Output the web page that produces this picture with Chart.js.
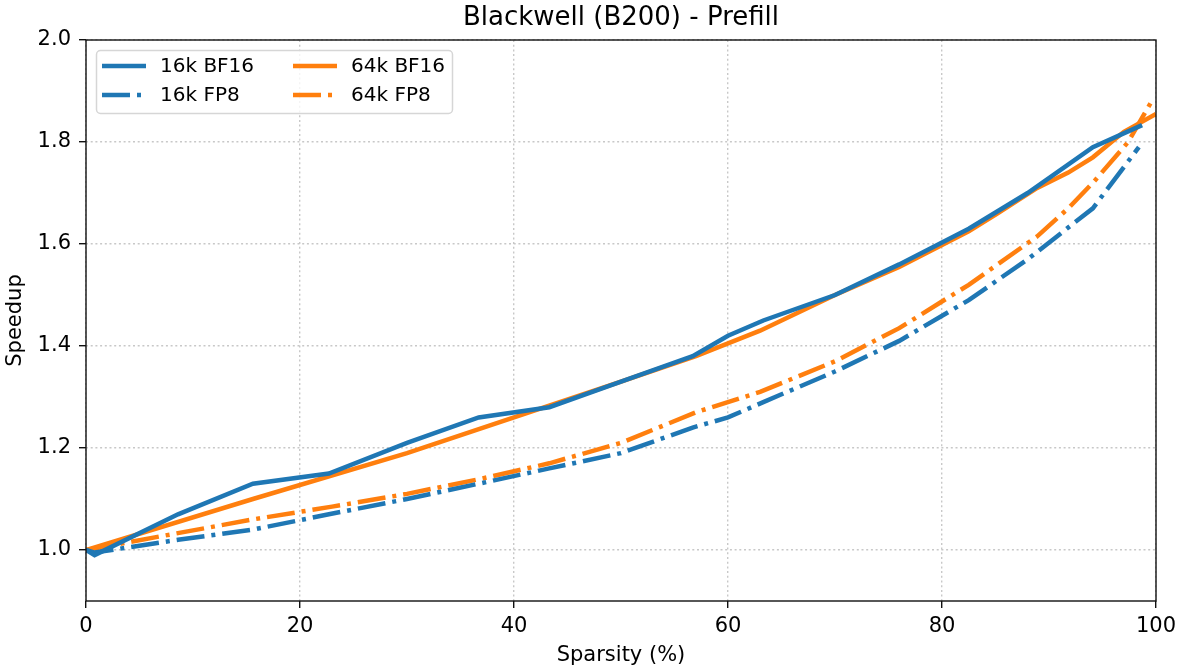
<!DOCTYPE html>
<html>
<head>
<meta charset="utf-8">
<script src="https://cdn.jsdelivr.net/npm/chart.js@4"></script>
<style>
  body { margin: 0; background: #fff; }
  canvas { display: block; }
</style>
</head>
<body>
<canvas id="speedupChart" width="1184" height="672"></canvas>
<script>
// ---- data ----
const seriesNames = ["16k BF16", "16k FP8", "64k BF16", "64k FP8"];

const bf16_16k_x = [0, 0.8, 8.6, 15.6, 22.7, 30, 36.7, 43.3, 50, 56.7, 60, 63.3, 70, 76, 82.5, 88, 94.1, 98.7];
const bf16_16k_y = [1.0, 0.99, 1.07, 1.13, 1.15, 1.21, 1.26, 1.28, 1.33, 1.38, 1.42, 1.45, 1.50, 1.56, 1.63, 1.70, 1.79, 1.833];

const fp8_16k_x = [0, 0.8, 8.6, 15.6, 22.7, 30, 36.7, 43.3, 50, 56.7, 60, 63.3, 70, 76, 82.5, 88, 94.1, 98.4];
const fp8_16k_y = [1.0, 0.995, 1.02, 1.04, 1.07, 1.10, 1.13, 1.16, 1.19, 1.24, 1.26, 1.29, 1.35, 1.41, 1.49, 1.57, 1.67, 1.79];

const bf16_64k_x = [0, 15.6, 30, 40, 50, 57, 63, 70, 76, 82.5, 85.2, 88.9, 91.8, 94.1, 97, 100];
const bf16_64k_y = [1.0, 1.10, 1.19, 1.26, 1.33, 1.38, 1.43, 1.50, 1.555, 1.625, 1.66, 1.71, 1.74, 1.77, 1.82, 1.855];

const fp8_64k_x = [0, 15.6, 23, 30, 37, 43.3, 50, 57, 63, 70, 76, 82.5, 85.2, 88.9, 91.8, 94.1, 97.4, 99.6];
const fp8_64k_y = [1.0, 1.06, 1.085, 1.11, 1.14, 1.17, 1.21, 1.27, 1.31, 1.37, 1.435, 1.52, 1.56, 1.615, 1.67, 1.72, 1.80, 1.88];

const xTicks = [0, 20, 40, 60, 80, 100];
const yTicks = [1.0, 1.2, 1.4, 1.6, 1.8, 2.0];

// ---- helpers ----
const toPoints = (xs, ys) => xs.map((x, i) => ({ x: x, y: ys[i] }));
const BLUE = "#1f77b4";
const ORANGE = "#ff7f0e";
const DASHDOT = [28, 7, 4, 7];
const FONT = "'DejaVu Sans', sans-serif";
const LW = 4.5;

// frame around the plot + title
const framePlugin = {
    id: "frame",
    afterDraw(chart) {
        const { ctx, chartArea: a } = chart;
        ctx.save();
        ctx.strokeStyle = "#111";
        ctx.lineWidth = 1.4;
        ctx.strokeRect(a.left, a.top, a.right - a.left, a.bottom - a.top);
        ctx.fillStyle = "#000";
        ctx.font = "26px " + FONT;
        ctx.textAlign = "center";
        ctx.textBaseline = "middle";
        ctx.fillText("Blackwell (B200) - Prefill", (a.left + a.right) / 2, 18);
        ctx.restore();
    }
};

// legend in the upper-left corner, two columns like matplotlib ncol=2
const legendPlugin = {
    id: "cornerLegend",
    afterDraw(chart) {
        const { ctx, chartArea: a } = chart;
        const bx = a.left + 10, by = a.top + 10, bw = 356, bh = 63;
        ctx.save();
        ctx.fillStyle = "rgba(255,255,255,0.8)";
        ctx.strokeStyle = "#d6d6d6";
        ctx.lineWidth = 1.5;
        ctx.beginPath();
        ctx.roundRect(bx + 0.5, by + 0.5, bw, bh, 4);
        ctx.fill();
        ctx.stroke();
        ctx.font = "20px " + FONT;
        ctx.textBaseline = "middle";
        ctx.fillStyle = "#000";
        chart.data.datasets.forEach((ds, k) => {
            const col = Math.floor(k / 2), row = k % 2;
            const lx = bx + 6 + col * 191;
            const ly = by + 16 + row * 29;
            ctx.strokeStyle = ds.borderColor;
            ctx.lineWidth = ds.borderWidth;
            ctx.setLineDash(ds.borderDash || []);
            ctx.beginPath();
            ctx.moveTo(lx, ly);
            ctx.lineTo(lx + 44, ly);
            ctx.stroke();
            ctx.setLineDash([]);
            ctx.fillText(ds.label, lx + 58, ly + 1);
        });
        ctx.restore();
    }
};

const gridOpts = { color: "#c8c8c8", lineWidth: 1.4, tickLength: 7, tickColor: "#111", tickWidth: 1.4 };

const ctx = document.getElementById("speedupChart").getContext("2d");
new Chart(ctx, {
    type: "line",
    data: {
        datasets: [
            { label: seriesNames[0], data: toPoints(bf16_16k_x, bf16_16k_y), borderColor: BLUE, borderWidth: LW },
            { label: seriesNames[1], data: toPoints(fp8_16k_x, fp8_16k_y), borderColor: BLUE, borderWidth: LW, borderDash: DASHDOT },
            { label: seriesNames[2], data: toPoints(bf16_64k_x, bf16_64k_y), borderColor: ORANGE, borderWidth: LW },
            { label: seriesNames[3], data: toPoints(fp8_64k_x, fp8_64k_y), borderColor: ORANGE, borderWidth: LW, borderDash: DASHDOT }
        ]
    },
    options: {
        responsive: false,
        animation: false,
        elements: { point: { radius: 0 }, line: { tension: 0, fill: false } },
        layout: { padding: { top: 40, right: 28, left: 0, bottom: 0 } },
        plugins: {
            legend: { display: false },
            title: { display: false },
            tooltip: { enabled: false }
        },
        scales: {
            x: {
                type: "linear",
                min: 0, max: 100,
                afterBuildTicks: axis => { axis.ticks = xTicks.map(v => ({ value: v })); },
                afterFit: axis => { axis.height = 71; },
                ticks: { color: "#000", font: { family: FONT, size: 21 }, padding: 6, maxRotation: 0 },
                grid: gridOpts,
                border: { display: false, dash: [2, 2.7] },
                title: { display: true, text: "Sparsity (%)", color: "#000", font: { family: FONT, size: 21 }, padding: { top: 0, bottom: 4 } }
            },
            y: {
                min: 0.9, max: 2.0,
                afterBuildTicks: axis => { axis.ticks = yTicks.map(v => ({ value: v })); },
                afterFit: axis => { axis.width = 86; },
                ticks: { color: "#000", font: { family: FONT, size: 21 }, padding: 8, callback: v => v.toFixed(1) },
                grid: gridOpts,
                border: { display: false, dash: [2, 2.7] },
                title: { display: true, text: "Speedup", color: "#000", font: { family: FONT, size: 21 }, padding: { top: 3, bottom: 0 } }
            }
        }
    },
    plugins: [framePlugin, legendPlugin]
});
</script>
</body>
</html>
